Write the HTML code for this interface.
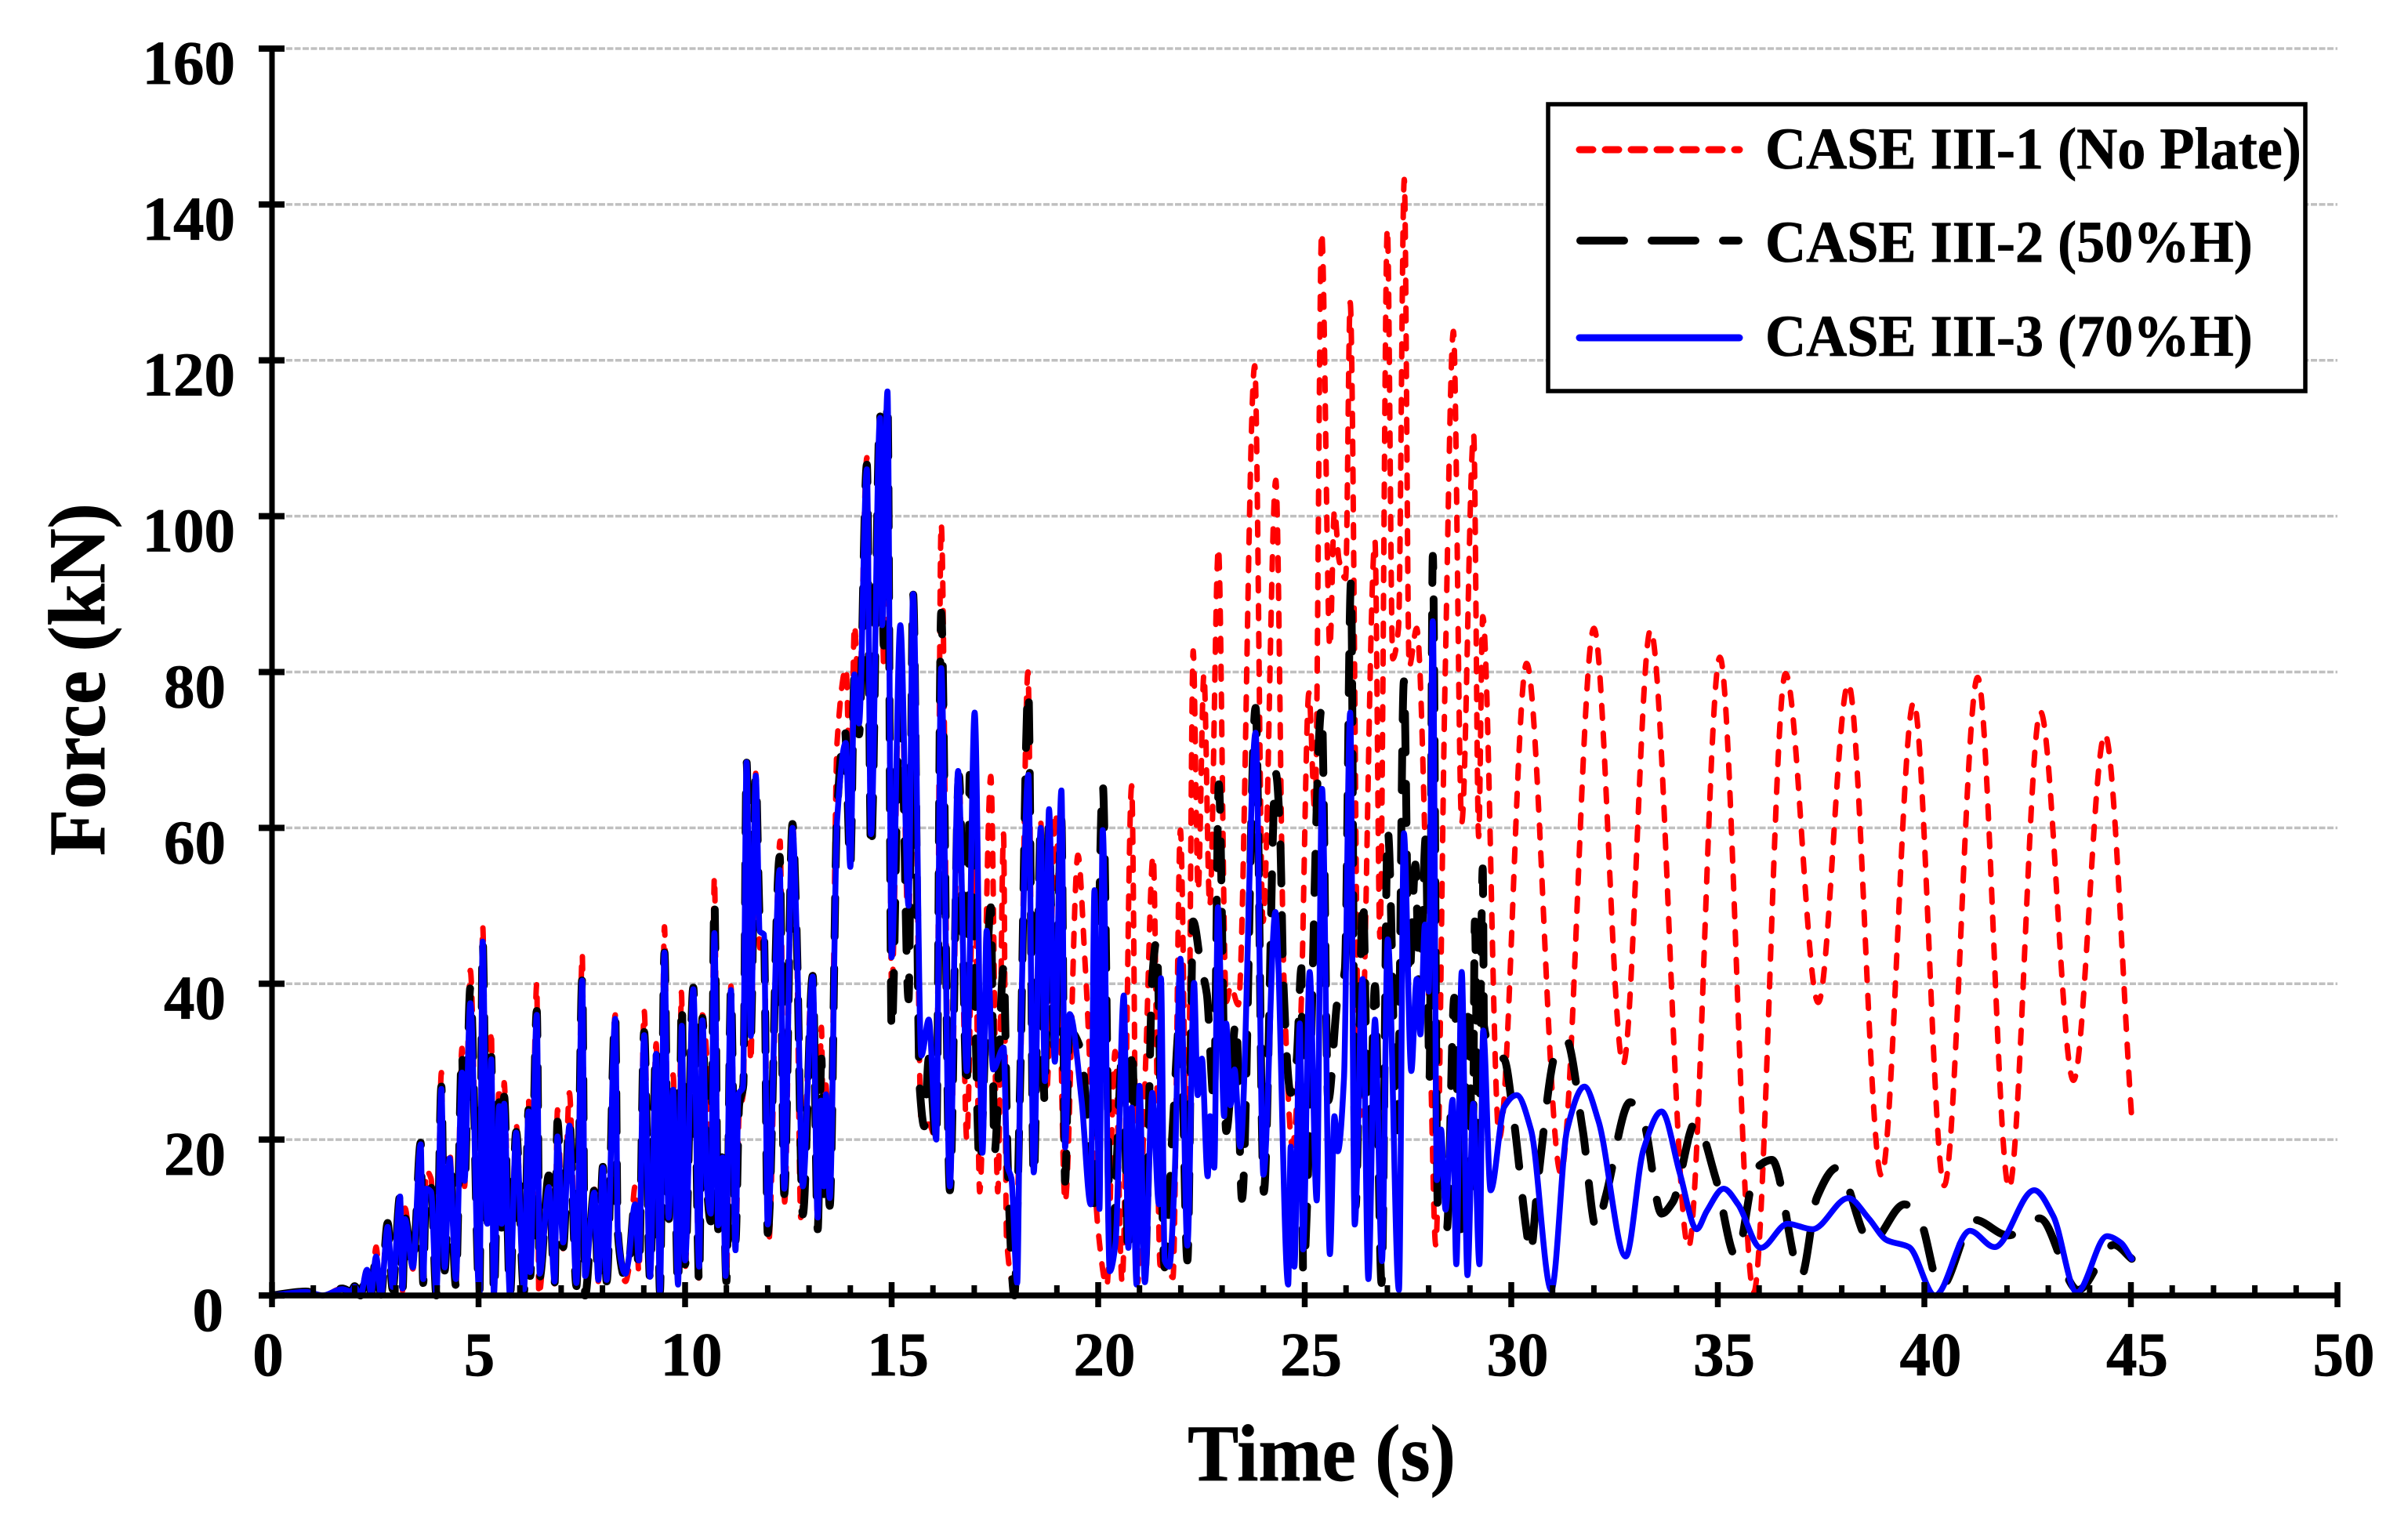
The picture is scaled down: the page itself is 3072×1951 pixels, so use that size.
<!DOCTYPE html>
<html lang="en">
<head>
<meta charset="utf-8">
<title>Force vs Time chart</title>
<style>
html,body{margin:0;padding:0;background:#fff;}
svg{display:block;}
text{font-family:"Liberation Serif",serif;font-weight:bold;fill:#000;stroke:#000;stroke-width:.7;}
</style>
</head>
<body>
<svg id="chart" xmlns="http://www.w3.org/2000/svg" width="3072" height="1951" viewBox="0 0 3072 1951">
  <rect x="0" y="0" width="3072" height="1951" fill="#ffffff"/>
  <g id="grid"></g>
  <g id="series"></g>
  <g id="axes"></g>
  <text transform="translate(133,867) rotate(-90) scale(1.015,1.07)" text-anchor="middle" font-size="96">Force (kN)</text>
  <text transform="translate(1686,1889) scale(1.015,1.07)" text-anchor="middle" font-size="96">Time (s)</text>
  <g>
    <rect x="1975" y="133" width="966" height="366" fill="#ffffff" stroke="#000000" stroke-width="5.5"/>
    <line x1="2015" y1="191" x2="2219" y2="191" stroke="#ff0000" stroke-width="9" stroke-linecap="round" stroke-dasharray="17 16"/>
    <line x1="2016" y1="307" x2="2218" y2="307" stroke="#000000" stroke-width="10" stroke-linecap="round" stroke-dasharray="56 35"/>
    <line x1="2015" y1="431" x2="2219" y2="431" stroke="#0000ff" stroke-width="9" stroke-linecap="round"/>
    <text transform="translate(2252,215) scale(1.003,1.05)" font-size="72">CASE III-1 (No Plate)</text>
    <text transform="translate(2252,334) scale(1.003,1.05)" font-size="72">CASE III-2 (50%H)</text>
    <text transform="translate(2252,454) scale(1.003,1.05)" font-size="72">CASE III-3 (70%H)</text>
  </g>
</svg>
<script>
const yTickValues = [0,20,40,60,80,100,120,140,160];
const xTickValues = [0,5,10,15,20,25,30,35,40,45,50];
const xMinorValues = [1,2,3,4,6,7,8,9,11,12,13,14,16,17,18,19,21,22,23,24,26,27,28,29,31,32,33,34,36,37,38,39,41,42,43,44,46,47,48,49];

const noPlateTime = [
0,.82,1.23,1.7,1.92,2,2.14,2.3,2.4,2.52,
2.64,2.8,2.92,3.1,3.16,3.22,3.41,3.6,3.66,3.73,
3.85,3.98,4.1,4.18,4.3,4.45,4.6,4.66,4.8,5.02,
5.1,5.21,5.31,5.37,5.5,5.56,5.62,5.76,5.91,6.1,
6.21,6.25,6.41,6.46,6.7,6.84,6.91,7.05,7.2,7.37,
7.51,7.58,7.8,7.9,8.01,8.1,8.31,8.37,8.56,8.63,
8.79,8.88,9.01,9.15,9.3,9.39,9.5,9.6,9.71,9.83,
9.91,10,10.2,10.34,10.42,10.53,10.62,10.71,10.8,10.91,
11,11.11,11.22,11.31,11.41,11.49,11.59,11.71,11.81,11.91,
12.02,12.3,12.41,12.6,12.7,12.8,13.09,13.21,13.3,13.36,
13.41,13.5,13.68,13.9,14,14.1,14.21,14.4,14.5,14.72,
14.81,14.9,15,15.21,15.41,15.52,15.72,15.9,16.08,16.2,
16.41,16.63,16.82,17,17.13,17.4,17.57,17.71,17.78,17.97,
18.11,18.3,18.44,18.61,18.75,18.97,19.2,19.51,19.68,20,
20.21,20.41,20.58,20.81,20.95,21.15,21.33,21.5,21.65,21.81,
21.99,22.16,22.3,22.42,22.56,22.7,22.91,23.1,23.21,23.39,
23.79,23.99,24.3,24.5,24.7,24.9,25.1,25.25,25.41,25.61,
25.72,25.83,25.99,26.1,26.33,26.7,26.82,27,27.13,27.27,
27.41,27.53,27.71,28.04,28.17,28.4,28.6,28.8,29.09,29.21,
29.31,29.71,30.37,31.2,32,32.71,33.37,34.29,35.05,35.87,
36.64,37.43,38.16,38.96,39.74,40.48,41.29,42.05,42.81,43.61,
44.37,45.02];
const noPlateForce = [
0,.5,0,.9,.5,1.2,0,3.4,.2,6.2,
0,9.8,.8,12.8,.6,11.2,3.4,19.6,1.6,16,
15,0,28.6,3.4,18.6,1,31.7,14,41.7,.1,
47.4,9,34,0,26.8,8.5,27.3,0,21.9,.5,
25.3,3,40,0,14,1.5,23.8,6,26,1.2,
43.8,2,13.8,1.8,17,1.8,36,8.5,1.8,3.2,
14,3,36.5,2,32.3,.5,47.3,9.5,28.3,1.5,
38.9,3.5,39.5,2,36,30.2,10,53.7,8.5,18,
1.8,39.7,5.8,23.5,26,68,30,67,44.6,46,
6.7,58.3,12,60.7,46,10,41.5,9,34.4,13,
27,11.5,71,80.5,60,86,76,107.5,59,112,
80.5,115,39,84,46,89,21.7,22,20,99,
14,66.7,20,59,13.3,66.6,13.3,59.2,7.5,1.2,
26,80,15.8,60.7,26,62,12,56.5,43,8.3,
1.2,31.3,1.7,65.4,1.6,30,56.4,3.9,3.6,2.3,
59.7,14,82.7,52,79.7,50,95.9,37.7,39.7,37.3,
119.3,48,104.6,40,19.2,35,77.3,61.7,136.4,83.2,
100.7,94.4,92,127.4,23,96.8,46,136.9,81.7,85.6,
143.2,80.7,85.6,30.9,6.5,79.7,123.7,60.7,110.5,58.9,
87.1,20.2,81.1,15.7,85.6,29.7,85.4,6.2,81.9,.4,
79.8,37.6,78.5,15.4,76.1,14.1,79.3,13.8,74.9,27.6,
72,22.7];

const halfHeightTime = [
0,.82,1.23,1.7,1.92,2,2.14,2.3,2.4,2.52,
2.64,2.8,2.92,3.1,3.16,3.22,3.41,3.6,3.66,3.73,
3.85,3.98,4.1,4.18,4.3,4.45,4.6,4.66,4.8,5.02,
5.1,5.21,5.31,5.37,5.5,5.56,5.62,5.76,5.91,6.1,
6.21,6.25,6.41,6.48,6.7,6.84,6.91,7.05,7.2,7.37,
7.51,7.58,7.8,7.9,8.01,8.1,8.31,8.37,8.56,8.63,
8.79,8.88,9.01,9.15,9.3,9.39,9.5,9.6,9.71,9.83,
9.92,10,10.2,10.34,10.42,10.53,10.62,10.71,10.8,10.91,
11,11.11,11.22,11.31,11.41,11.49,11.59,11.71,11.81,11.91,
12,12.29,12.4,12.6,12.7,12.85,13.09,13.21,13.3,13.36,
13.41,13.5,13.68,13.87,14,14.1,14.21,14.4,14.5,14.72,
14.81,14.9,15,15.21,15.41,15.52,15.68,15.79,15.9,16.08,
16.2,16.41,16.63,16.82,16.89,17.13,17.4,17.49,17.71,17.82,
17.97,18.11,18.31,18.44,18.61,18.7,18.8,18.95,19.11,19.2,
19.3,19.57,19.75,19.88,20.11,20.31,20.6,20.73,20.82,20.95,
21.13,21.31,21.41,21.61,21.8,21.99,22.16,22.3,22.49,22.63,
22.8,22.92,23.1,23.34,23.48,23.81,24.01,24.3,24.41,24.48,
24.66,24.8,24.92,24.96,25.41,25.57,25.79,25.97,26.12,26.23,
26.41,26.55,26.7,26.86,27.01,27.24,27.4,27.53,27.68,27.78,
27.93,28.02,28.1,28.22,28.44,28.62,28.78,28.98,29.06,29.12,
29.2,29.31,29.34,29.6,29.83,30.05,30.37,30.46,30.64,31.08,
31.33,31.73,32.06,32.28,32.88,33.2,33.64,33.91,34.46,34.95,
35.44,35.93,36.31,37.02,37.4,37.89,38.7,39.52,39.9,40.39,
41.21,42.03,42.79,43.72,44.59,45.02];
const halfHeightForce = [
0,.5,0,.9,.5,1.2,0,3.4,.2,5.2,
.1,9.3,.8,12.8,.6,10,3.4,19.6,1.6,14.2,
14,0,26.8,3.2,17.9,1.3,31.3,14.2,39.5,.1,
45.4,9,30.6,0,24.8,8.7,25.5,0,21,.5,
23.8,2.5,36.5,2.3,15.4,1.5,22.3,6.2,22.5,1.2,
40.6,0,13.5,1.8,16.5,1.8,36,8.2,2.2,3.5,
12,3.2,33.8,2.2,31.9,.5,44,9.5,27,1,
37.6,4,39.5,1.5,35.6,14,9.5,50.7,8.5,18.5,
1.8,39.3,7,24.5,27,68.4,33,66.7,48,46.3,
8,56.3,13,60.5,46.7,10.4,41,8.5,30.4,13,
25,11.5,62,72.6,55,79.7,72,106.6,57,113,
83.4,115,33.8,79,38,90,26.7,21.7,30.4,19.5,
87.6,13.5,66.7,26.3,66.8,16.7,49.8,18.3,42.1,15,
0,27,77.7,15,60,25,60,30.8,61,14.6,
34,31.7,21.7,11,65.6,4,31.7,5,32,4,
3.5,40.8,45.5,3.6,21.2,36,4.5,48,42.2,38.7,
25,65.6,21.1,35.3,12.4,75.4,13.3,67,58.3,40.7,
26,30,42,3,75.4,25,37.8,41.7,91.5,11.4,
51,16,39.7,1.6,59.7,21.2,78.8,40.7,55.3,38,
58.8,28,94.9,11.4,8.5,38.2,8.5,37.7,14,48,
15,54.8,34.6,31,30.3,23,8.3,5.3,14.4,31.2,
32.8,21.2,8.6,12.6,24.8,22.4,10.5,12,22.2,15,
5,16.3,17.4,2.5,12.6,16.4,6.8,11.7,9.6,1,
9.7,7.7,9.9,.7,6.5,4.7];

const seventyHeightTime = [
0,.82,1.23,1.7,1.92,2,2.14,2.3,2.4,2.52,
2.64,2.8,2.92,3.1,3.16,3.22,3.41,3.6,3.66,3.73,
3.85,3.98,4.1,4.18,4.3,4.45,4.6,4.66,4.8,5.02,
5.1,5.21,5.31,5.37,5.5,5.56,5.62,5.76,5.91,6.1,
6.21,6.25,6.41,6.48,6.7,6.84,6.91,7.05,7.2,7.37,
7.51,7.58,7.8,7.9,8.01,8.1,8.31,8.37,8.56,8.63,
8.79,8.88,9.01,9.15,9.3,9.39,9.5,9.6,9.71,9.83,
9.92,10,10.2,10.34,10.42,10.53,10.62,10.71,10.8,10.91,
10.98,11.11,11.22,11.29,11.4,11.49,11.59,11.71,11.81,11.91,
12,12.29,12.4,12.6,12.7,12.85,13.09,13.21,13.29,13.36,
13.41,13.5,13.68,13.89,14,14.1,14.21,14.4,14.5,14.72,
14.77,14.9,15,15.21,15.41,15.52,15.72,15.9,16.08,16.2,
16.41,16.61,16.82,17.01,17.2,17.3,17.46,17.71,17.8,17.9,
18.04,18.11,18.31,18.44,18.61,18.71,18.81,18.95,19.11,19.2,
19.31,19.6,19.82,19.91,20.03,20.11,20.28,20.42,20.62,20.73,
20.81,20.93,21,21.13,21.31,21.47,21.52,21.61,21.72,21.85,
21.99,22.16,22.32,22.41,22.51,22.65,22.71,22.81,22.9,23.05,
23.1,23.2,23.3,23.44,23.81,24,24.29,24.6,24.66,24.75,
24.88,24.96,25.12,25.29,25.42,25.61,25.72,25.8,25.95,26.1,
26.21,26.4,26.54,26.7,26.87,27.01,27.28,27.4,27.58,27.71,
27.8,27.91,28,28.1,28.2,28.3,28.41,28.58,28.67,28.8,
28.94,29.08,29.23,29.32,29.5,29.83,30.13,30.48,30.97,31.35,
31.77,32.11,32.77,33.2,33.64,34.08,34.49,34.73,35.14,35.49,
36.04,36.69,37.29,38.16,38.65,39.09,39.63,40.26,41.1,41.7,
42.66,43.12,43.69,44.42,44.75,45.02];
const seventyHeightForce = [
0,.45,0,.8,.5,1.1,0,3.3,.3,5,
.1,8.8,1.1,12.7,.9,9.8,3.6,19.4,2.1,13.7,
13.3,.3,26.5,3.6,17.6,2.1,28.6,14.7,37.5,.1,
45.4,9.2,30.3,.1,24.3,9.2,24.6,0,20.9,.8,
23.6,3,36,2.8,13.9,1.8,20.4,6.8,21.8,1.6,
40.4,2.5,13.2,2,16.4,2,35.5,8.4,2.8,4.5,
11.7,4.5,33.4,2.4,31,.5,44,10,26.4,1.4,
34.6,4.5,39.3,3.7,35.3,13.9,10.5,46.5,9,17.7,
2.5,39.2,5.8,25.8,26.7,68.4,33.3,66.7,46.7,46.3,
9.1,54.6,13.7,60,46.7,14,40.9,10,25,14,
25.8,12.5,60.9,70.9,55,79.7,73.4,106,59.2,112.6,
86,116,43.4,86,50,90,30.8,35.4,20,80.5,
14,67.3,28.8,74.8,18.3,46.8,29,31.8,16.7,15,
1.6,27.5,66.8,15.8,60,27.5,62.4,30,64.8,19,
36.1,25,11.7,52,11.1,59.7,3.1,6.7,38.5,6.1,
24.1,1.4,26.9,1.7,26,11.7,40.7,4.5,3.7,15,
43.2,6.4,40.1,25.7,30.4,15.3,23,16.4,49.8,23,
34.9,24.4,29,19.1,72.2,15.5,49.2,1.4,19.1,3.7,
34.9,5.9,41.5,12.2,65,5.3,23,18.5,27.9,74.8,
9.1,40.6,2.1,35.4,4.4,45.7,.7,59.3,28.8,40.6,
33.5,47.6,39,86.5,14.8,21.3,11,25.1,4,41.5,
2.6,24.6,4,34,13.5,24.2,25.7,21.2,.7,21.2,
26.8,22.4,5,18.7,23.6,15.7,8.5,10.8,13.7,11.7,
6.1,9.2,8.5,12.5,9.9,7.1,6.2,0,8.3,6.2,
13.5,10.2,.4,7.6,6.8,4.7];

const NS = 'http://www.w3.org/2000/svg';
const X0 = 347, Y0 = 1653, PX_PER_S = 52.7, PX_PER_KN = 9.944;
const xAt = t => X0 + t * PX_PER_S;
const yAt = f => Y0 - f * PX_PER_KN;

function make(parent, tag, attrs) {
  const el = document.createElementNS(NS, tag);
  for (const k in attrs) el.setAttribute(k, attrs[k]);
  parent.appendChild(el);
  return el;
}

/* Monotone cubic path so peaks and troughs land exactly on the read values */
function curvePath(ts, fs) {
  const xs = ts.map(xAt), ys = fs.map(yAt), n = xs.length;
  const slope = [];
  for (let i = 0; i < n - 1; i++) slope.push((ys[i + 1] - ys[i]) / (xs[i + 1] - xs[i]));
  const tan = [slope[0]];
  for (let i = 1; i < n - 1; i++) {
    if (slope[i - 1] * slope[i] <= 0) { tan.push(0); continue; }
    const h0 = xs[i] - xs[i - 1], h1 = xs[i + 1] - xs[i];
    const w1 = 2 * h1 + h0, w2 = h1 + 2 * h0;
    tan.push((w1 + w2) / (w1 / slope[i - 1] + w2 / slope[i]));
  }
  tan.push(slope[n - 2]);
  let d = 'M' + xs[0].toFixed(1) + ' ' + ys[0].toFixed(1);
  for (let i = 0; i < n - 1; i++) {
    const h = (xs[i + 1] - xs[i]) / 3;
    d += 'C' + (xs[i] + h).toFixed(1) + ' ' + (ys[i] + tan[i] * h).toFixed(1) + ' ' +
         (xs[i + 1] - h).toFixed(1) + ' ' + (ys[i + 1] - tan[i + 1] * h).toFixed(1) + ' ' +
         xs[i + 1].toFixed(1) + ' ' + ys[i + 1].toFixed(1);
  }
  return d;
}

const gridLayer = document.getElementById('grid');
const seriesLayer = document.getElementById('series');
const axesLayer = document.getElementById('axes');

yTickValues.forEach(v => {
  if (v === 0) return;
  const g = make(gridLayer, 'line', {x1: 365, x2: xAt(50), y1: yAt(v), y2: yAt(v), stroke: '#c0c0c0', 'stroke-width': 3.5, 'stroke-dasharray': '8 2.5'});
  
  
});

const red = make(seriesLayer, 'path', {d: curvePath(noPlateTime, noPlateForce), fill: 'none', stroke: '#ff0000', 'stroke-width': 7, 'stroke-linecap': 'round', 'stroke-linejoin': 'round', 'stroke-dasharray': '16.5 19'});



const black = make(seriesLayer, 'path', {d: curvePath(halfHeightTime, halfHeightForce), fill: 'none', stroke: '#000000', 'stroke-width': 10, 'stroke-linecap': 'round', 'stroke-linejoin': 'round', 'stroke-dasharray': '50 40'});



const blue = make(seriesLayer, 'path', {d: curvePath(seventyHeightTime, seventyHeightForce), fill: 'none', stroke: '#0000ff', 'stroke-width': 7.5, 'stroke-linecap': 'round', 'stroke-linejoin': 'round'});



const yAxis = make(axesLayer, 'line', {x1: X0, x2: X0, y1: yAt(160) - 4, y2: Y0, stroke: '#000', 'stroke-width': 7});



const xAxis = make(axesLayer, 'line', {x1: 330, x2: xAt(50) + 3.5, y1: Y0, y2: Y0, stroke: '#000', 'stroke-width': 7.5});



yTickValues.forEach(v => {
  const tick = make(axesLayer, 'line', {x1: 330, x2: 363, y1: yAt(v), y2: yAt(v), stroke: '#000', 'stroke-width': 8});
  
  
  const s = String(v);
  const label = make(axesLayer, 'text', {x: s.length === 3 ? 300 : (s.length === 2 ? 288 : 285), y: yAt(v) + 45, 'text-anchor': 'end', 'font-size': 79});
  label.textContent = s;
  
  
});

xTickValues.forEach(v => {
  const tick = make(axesLayer, 'line', {x1: xAt(v), x2: xAt(v), y1: 1636, y2: 1668, stroke: '#000', 'stroke-width': 7.5});
  
  
  const s = String(v);
  const label = make(axesLayer, 'text', {x: xAt(v) + (v === 0 ? -5 : (v === 5 ? 1 : 8)), y: 1755, 'text-anchor': 'middle', 'font-size': 79});
  label.textContent = s;
  
  
});

xMinorValues.forEach(v => {
  const tick = make(axesLayer, 'line', {x1: xAt(v), x2: xAt(v), y1: 1640, y2: Y0, stroke: '#000', 'stroke-width': 7});
  
  
});
</script>
</body>
</html>
